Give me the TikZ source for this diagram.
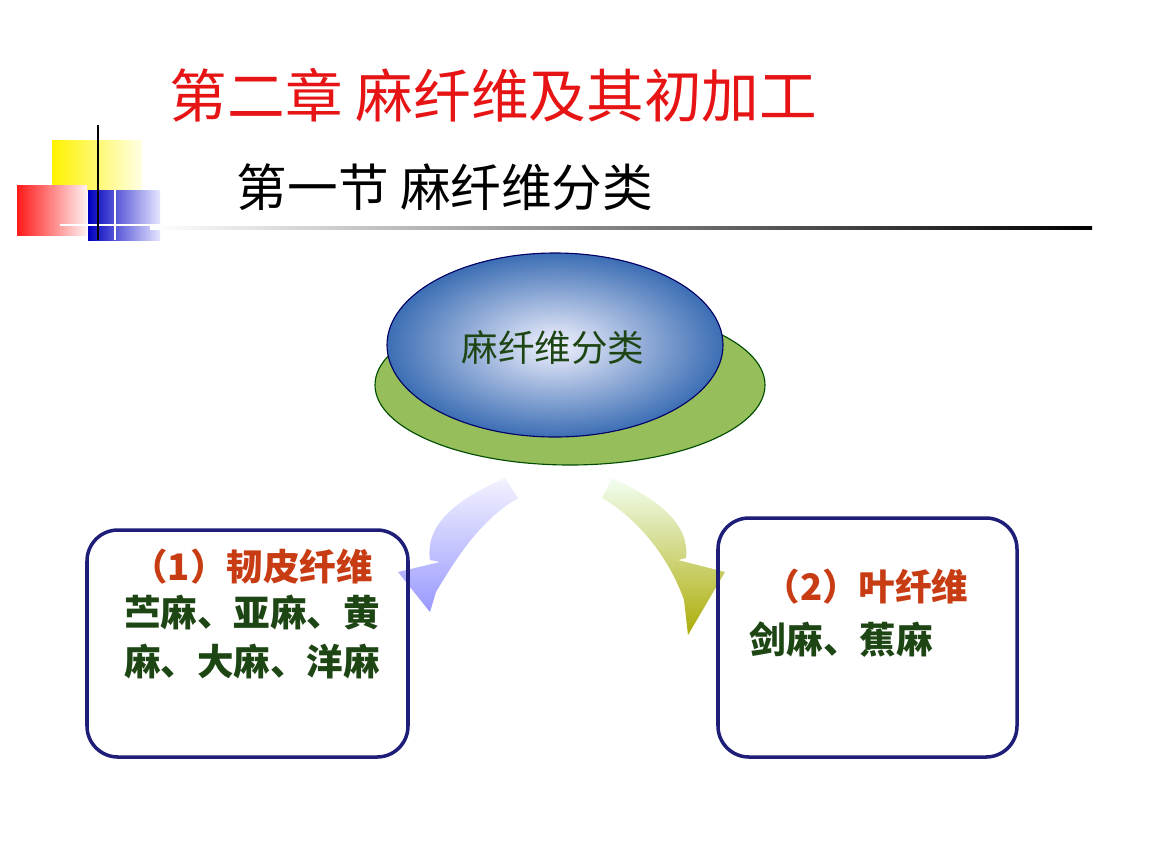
\documentclass[tikz,border=0pt]{standalone}
\usepackage{fontspec}
\setmainfont{Noto Sans CJK SC}
\usetikzlibrary{positioning}
\definecolor{titlered}{RGB}{230,20,20}
\definecolor{boxblue}{RGB}{30,30,120}
\definecolor{leafgreen}{RGB}{30,70,20}
\definecolor{headred}{RGB}{200,60,20}
\definecolor{discgreen}{RGB}{150,190,90}
\definecolor{discblue}{RGB}{60,110,180}
\tikzset{
  px/.style={x=0.025cm,y=-0.025cm},
  catbox/.style={draw=boxblue, line width=2.5pt, rounded corners=22pt},
  headtext/.style={text=headred, font=\fontsize{26}{29}\selectfont\bfseries},
  itemtext/.style={text=leafgreen, font=\fontsize{26}{35}\selectfont\bfseries, align=left}
}
\begin{document}
\begin{tikzpicture}[px]
    \useasboundingbox (0,0) rectangle (1152,864);

    % Corner decoration
    \shade[left color=yellow!90!orange, right color=yellow!10] (52,140) rectangle (142,190);
    \shade[left color=blue!75!black, right color=blue!10] (88,190) rectangle (160,240);
    \shade[left color=red!90, right color=red!5] (17,185) rectangle (87,235);
    \draw[white, line width=2pt] (60,225) -- (160,225);
    \draw[white, line width=2pt] (115,190) -- (115,240);
    \draw[black, line width=2pt] (98,125) -- (98,240);

    % Titles
    \node[text=titlered, font=\fontsize{41}{45}\selectfont, anchor=west] (chap) at (165,95) {第二章 麻纤维及其初加工};
    \node[font=\fontsize{36}{40}\selectfont, anchor=west] (sec) at (232,187) {第一节 麻纤维分类};
    \shade[left color=white, right color=black] (150,226) rectangle (1092,229);

    % Central disc
    \fill[discgreen, draw=green!30!black, thick] (570,385) ellipse (195 and 80);
    \shade[inner color=blue!5, outer color=discblue, draw=blue!40!black, thick]
        (555,345) ellipse (168 and 92);
    \node[text=leafgreen, font=\fontsize{26}{29}\selectfont] (root) at (553,348) {麻纤维分类};

    % Arrows
    \shade[top color=blue!5, bottom color=blue!40] (505,478) .. controls (455,500) and (425,525) .. (430,560)
        -- (440,562) -- (398,572) -- (430,612) -- (436,592) .. controls (455,560) and (480,520) .. (518,498) -- cycle;
    \shade[top color=green!5, bottom color=olive!65] (612,478) .. controls (660,500) and (690,525) .. (686,558)
        -- (678,560) -- (725,572) -- (688,635) -- (684,600) .. controls (670,560) and (640,520) .. (602,498) -- cycle;

    % Category boxes
    \draw[catbox] (87,530) rectangle (408,757);
    \node[headtext] (bast) at (252,567) {（1）韧皮纤维};
    \node[itemtext, below=0pt of bast] (bastitems) {苎麻、亚麻、黄\\麻、大麻、洋麻};

    \draw[catbox] (718,518) rectangle (1017,757);
    \node[headtext] (leaf) at (866,587) {（2）叶纤维};
    \node[itemtext, anchor=west] (leafitems) at (745,640) {剑麻、蕉麻};
\end{tikzpicture}
\end{document}
